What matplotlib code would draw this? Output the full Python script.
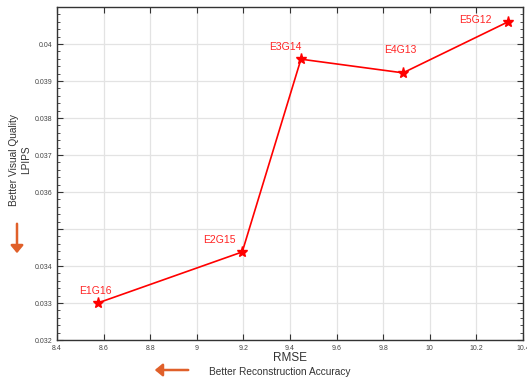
import matplotlib
matplotlib.use("Agg")
import matplotlib.pyplot as plt
from matplotlib.ticker import MultipleLocator

plt.rcParams["font.family"] = ["Liberation Sans", "DejaVu Sans"]

names = ["E1G16", "E2G15", "E3G14", "E4G13", "E5G12"]
rmse = [8.575, 9.195, 9.447, 9.885, 10.336]
lpips = [0.0330, 0.03438, 0.03959, 0.03922, 0.04060]
# label offsets in points (centre of text relative to the star)
label_offsets = [(-1.8, 8.6), (-16.5, 8.6), (-11.5, 8.6), (-2.2, 16.2), (-23.8, 1.4)]
xticks = [8.4, 8.6, 8.8, 9.0, 9.2, 9.4, 9.6, 9.8, 10.0, 10.2, 10.4]
xticklabels = ["8.4", "8.6", "8.8", "9", "9.2", "9.4", "9.6", "9.8", "10", "10.2", "10.4"]
yticks = [0.032, 0.033, 0.034, 0.035, 0.036, 0.037, 0.038, 0.039, 0.040]
yticklabels = ["0.032", "0.033", "0.034", "", "0.036", "0.037", "0.038", "0.039", "0.04"]

fig = plt.figure(figsize=(5.27, 3.8), dpi=100)
ax = fig.add_axes([57/527, 1-340/380, (523-57)/527, (340-7)/380])

ax.plot(rmse, lpips, color="red", lw=1.2, marker="*", markersize=8, zorder=3)
for n, x, y, off in zip(names, rmse, lpips, label_offsets):
    ax.annotate(n, (x, y), xytext=off, textcoords="offset points",
                ha="center", va="center", color="#ff2525", fontsize=7.5)

ax.set_xlim(8.4, 10.4)
ax.set_ylim(0.032, 0.041)
ax.set_xticks(xticks)
ax.set_xticklabels(xticklabels)
ax.set_yticks(yticks)
ax.set_yticklabels(yticklabels)
ax.yaxis.set_minor_locator(MultipleLocator(0.0002))
ax.grid(True, color="#e3e3e3", lw=0.9)
ax.set_axisbelow(True)
ax.tick_params(which="both", direction="in", top=True, right=True,
               labelsize=5, labelcolor="#444444", color="#333333")
ax.tick_params(which="major", length=4)
ax.tick_params(which="minor", length=2)
for s in ax.spines.values():
    s.set_color("#333333")
    s.set_linewidth(1.0)

fig.text(290/527, 1-358/380, "RMSE", ha="center", va="center", fontsize=8.5, color="#333333")
fig.text(280/527, 1-372/380, "Better Reconstruction Accuracy", ha="center", va="center",
         fontsize=7.3, color="#333333")
fig.text(20/527, 1-160/380, "Better Visual Quality\nLPIPS", ha="center", va="center",
         rotation=90, fontsize=7.3, color="#333333", linespacing=1.25)

orange = "#e0602a"
fig.patches.append(matplotlib.patches.FancyArrowPatch(
    (191/527, 1-370/380), (152/527, 1-370/380), transform=fig.transFigure,
    arrowstyle="-|>,head_length=3,head_width=2.5", color=orange, lw=1.8, mutation_scale=1.5))
fig.patches.append(matplotlib.patches.FancyArrowPatch(
    (17/527, 1-221/380), (17/527, 1-256/380), transform=fig.transFigure,
    arrowstyle="-|>,head_length=3,head_width=2.5", color=orange, lw=1.8, mutation_scale=1.5))

fig.savefig("out.png", dpi=100)
